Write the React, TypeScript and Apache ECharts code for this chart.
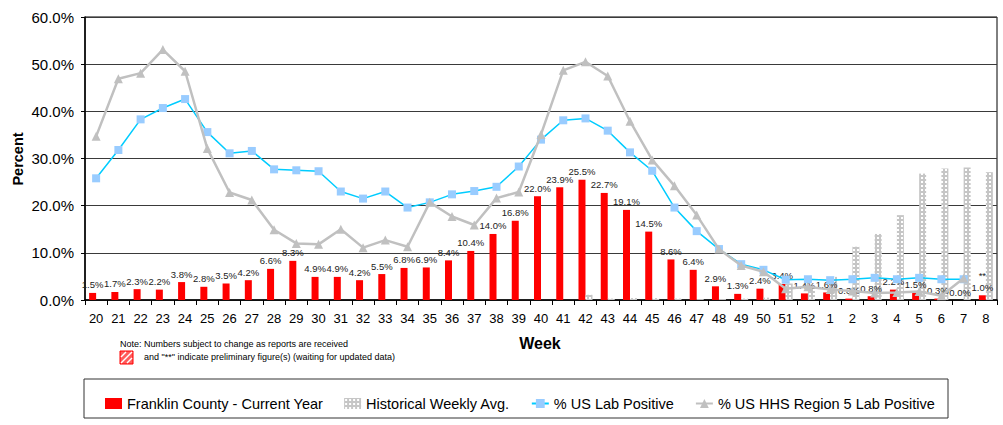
import React, { useEffect, useRef } from 'react';
import * as echarts from 'echarts';

const weeks: string[] = [
  '20', '21', '22', '23', '24', '25', '26', '27', '28', '29', '30', '31', '32', '33', '34', '35', '36',
  '37', '38', '39', '40', '41', '42', '43', '44', '45', '46', '47', '48', '49', '50', '51', '52',
  '1', '2', '3', '4', '5', '6', '7', '8',
];

const franklinCurrent: number[] = [
  1.5, 1.7, 2.3, 2.2, 3.8, 2.8, 3.5, 4.2, 6.6, 8.3, 4.9, 4.9, 4.2, 5.5, 6.8, 6.9, 8.4,
  10.4, 14.0, 16.8, 22.0, 23.9, 25.5, 22.7, 19.1, 14.5, 8.6, 6.4, 2.9, 1.3, 2.4, 3.4, 1.4,
  1.6, 0.3, 0.8, 2.2, 1.5, 0.3, 0.0, 1.0,
];

const historicalAvg: (number | null)[] = [
  null, null, null, null, null, null, null, null, null, null, null, null, null, null, null, null, null,
  null, null, null, null, null, 1.1, 0.3, 0.4, 0.4, 0.3, 0.2, 0.2, 0.3, 0.5, 3.5, 2.8,
  4.9, 11.3, 14.0, 18.0, 26.8, 27.9, 28.1, 27.1,
];

const usLabPositive: (number | null)[] = [
  25.8, 31.8, 38.3, 40.7, 42.6, 35.6, 31.1, 31.6, 27.7, 27.5, 27.3, 23.0, 21.5, 23.0, 19.6, 20.7, 22.4,
  23.1, 24.0, 28.3, 34.0, 38.1, 38.5, 35.9, 31.3, 27.4, 19.6, 14.6, 10.8, 7.6, 6.4, 4.3, 4.4,
  4.2, 4.4, 4.7, 4.4, 4.7, 4.4, 4.4, null,
];

const hhsRegion5Positive: (number | null)[] = [
  34.7, 46.9, 48.1, 53.1, 48.5, 32.1, 22.8, 21.2, 14.9, 12.0, 11.8, 15.0, 11.1, 12.7, 11.3, 20.7, 17.7,
  15.9, 21.6, 22.9, 35.1, 48.7, 50.5, 47.5, 37.9, 29.7, 24.2, 18.0, 10.8, 7.3, 6.0, 2.4, 2.8,
  2.2, 1.9, 1.5, 1.6, 1.8, 0.9, 4.6, null,
];

const preliminaryWeeks: string[] = ['8'];

const seriesNames = {
  franklin: 'Franklin County - Current Year',
  historical: 'Historical Weekly Avg.',
  us: '% US Lab Positive',
  hhs: '% US HHS Region 5 Lab Positive',
};

const FONT = '"Liberation Sans", Arial, sans-serif';

function makeDotPattern(): HTMLCanvasElement {
  const c = document.createElement('canvas');
  c.width = 4;
  c.height = 4;
  const ctx = c.getContext('2d');
  if (ctx) {
    ctx.fillStyle = '#c6c6c6';
    ctx.fillRect(0, 0, 4, 4);
    ctx.fillStyle = '#ffffff';
    ctx.fillRect(1, 1, 2, 2);
  }
  return c;
}

export default function App() {
  const ref = useRef<HTMLDivElement>(null);

  useEffect(() => {
    if (!ref.current) return;
    const chart = echarts.init(ref.current, null, { renderer: 'svg' });
    const pattern = makeDotPattern();

    const option: any = {
      animation: false,
      backgroundColor: '#ffffff',
      textStyle: { fontFamily: FONT },
      grid: { left: 85, right: 6, top: 17, bottom: 125, show: true, borderColor: '#000', borderWidth: 1 },
      xAxis: {
        type: 'category',
        data: weeks,
        axisLine: { lineStyle: { color: '#000', width: 1.5 } },
        axisTick: { show: true, length: 5, alignWithLabel: false, interval: 0, lineStyle: { color: '#000' } },
        axisLabel: { interval: 0, fontSize: 13, color: '#000', margin: 12, fontFamily: FONT },
        splitLine: { show: false },
      },
      yAxis: {
        type: 'value',
        min: 0,
        max: 60,
        interval: 10,
        axisLine: { show: true, lineStyle: { color: '#000', width: 1.5 } },
        axisTick: { show: true, length: 4, lineStyle: { color: '#000' } },
        axisLabel: {
          fontSize: 15,
          color: '#000',
          margin: 11,
          fontFamily: FONT,
          formatter: (v: number) => v.toFixed(1) + '%',
        },
        splitLine: { show: true, lineStyle: { color: '#3a3a3a', width: 1 } },
      },
      legend: {
        left: 100,
        top: 391,
        itemWidth: 17,
        itemHeight: 11,
        itemGap: 21,
        textStyle: { fontSize: 14.5, color: '#000', fontFamily: FONT },
        data: [
          { name: seriesNames.franklin, icon: 'rect' },
          { name: seriesNames.historical, icon: 'rect' },
          { name: seriesNames.us },
          { name: seriesNames.hhs },
        ],
      },
      series: [
        {
          name: seriesNames.franklin,
          type: 'bar',
          data: franklinCurrent,
          barWidth: 7,
          barGap: '0%',
          itemStyle: { color: '#ff0000' },
          label: {
            show: true,
            position: 'top',
            distance: 2,
            fontSize: 9.5,
            lineHeight: 12,
            color: '#222',
            fontFamily: FONT,
            formatter: (p: any) =>
              (preliminaryWeeks.includes(p.name) ? '**\n' : '') + Number(p.value).toFixed(1) + '%',
          },
          z: 2,
        },
        {
          name: seriesNames.historical,
          type: 'bar',
          data: historicalAvg,
          barWidth: 7,
          itemStyle: { color: { image: pattern, repeat: 'repeat' } },
          z: 2,
        },
        {
          name: seriesNames.us,
          type: 'line',
          data: usLabPositive,
          symbol: 'rect',
          symbolSize: 8,
          lineStyle: { color: '#00ccff', width: 1.5 },
          itemStyle: { color: '#99ccff', borderWidth: 0 },
          z: 3,
        },
        {
          name: seriesNames.hhs,
          type: 'line',
          data: hhsRegion5Positive,
          symbol: 'triangle',
          symbolSize: 9,
          lineStyle: { color: '#c0c0c0', width: 2.5 },
          itemStyle: { color: '#c0c0c0', borderWidth: 0 },
          z: 4,
        },
      ],
      graphic: [
        {
          type: 'text',
          x: 18,
          y: 159,
          rotation: Math.PI / 2,
          style: {
            text: 'Percent',
            fontSize: 14.5,
            fontWeight: 'bold',
            fill: '#000',
            fontFamily: FONT,
            align: 'center',
            verticalAlign: 'middle',
          },
        },
        {
          type: 'text',
          x: 540,
          y: 343,
          style: {
            text: 'Week',
            fontSize: 16,
            fontWeight: 'bold',
            fill: '#000',
            fontFamily: FONT,
            align: 'center',
            verticalAlign: 'middle',
          },
        },
        {
          type: 'text',
          x: 120,
          y: 344,
          style: {
            text: 'Note: Numbers subject to change as reports are received',
            fontSize: 9,
            fill: '#000',
            fontFamily: FONT,
            verticalAlign: 'middle',
          },
        },
        {
          type: 'text',
          x: 144,
          y: 357,
          style: {
            text: 'and "**" indicate preliminary figure(s) (waiting for updated data)',
            fontSize: 9,
            fill: '#000',
            fontFamily: FONT,
            verticalAlign: 'middle',
          },
        },
        {
          type: 'group',
          x: 120,
          y: 351,
          children: [
            { type: 'rect', shape: { x: 0, y: 0, width: 13, height: 13 }, style: { fill: '#ff5a5a', stroke: '#ff0000', lineWidth: 1 } },
            { type: 'line', shape: { x1: 1, y1: 6, x2: 6, y2: 1 }, style: { stroke: '#ffffff', lineWidth: 1.5 } },
            { type: 'line', shape: { x1: 1, y1: 12, x2: 12, y2: 1 }, style: { stroke: '#ffffff', lineWidth: 1.5 } },
            { type: 'line', shape: { x1: 7, y1: 12, x2: 12, y2: 7 }, style: { stroke: '#ffffff', lineWidth: 1.5 } },
          ],
        },
        {
          type: 'rect',
          shape: { x: 84, y: 379, width: 864, height: 39 },
          style: { fill: 'none', stroke: '#333', lineWidth: 1 },
          z: -1,
        },
      ],
    };

    chart.setOption(option);
    return () => chart.dispose();
  }, []);

  return (
    <div
      ref={ref}
      style={{ position: 'absolute', left: 0, top: 0, width: 1003, height: 425 }}
    />
  );
}
